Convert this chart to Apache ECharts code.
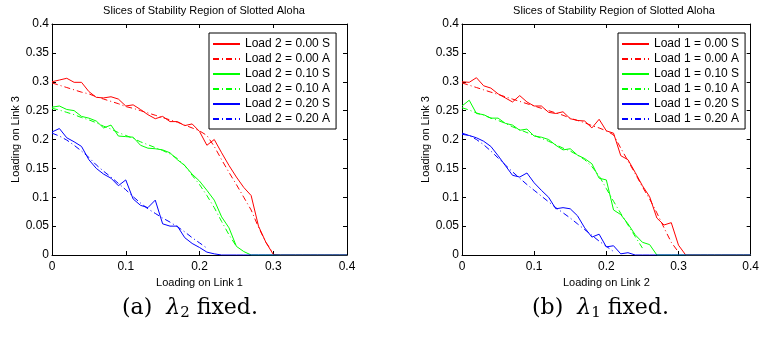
<!DOCTYPE html>
<html>
<head>
<meta charset="utf-8">
<script src="https://cdn.jsdelivr.net/npm/echarts@6/dist/echarts.min.js"></script>
<style>
html,body{margin:0;padding:0;background:#fff;}
#chart{width:762px;height:337px;}
</style>
</head>
<body>
<div id="chart"></div>
<script>
// ---- data ----
const xs = [0,0.01,0.02,0.03,0.04,0.05,0.06,0.07,0.08,0.09,0.10,0.11,0.12,0.13,0.14,0.15,0.16,0.17,0.18,0.19,0.20,
            0.21,0.22,0.23,0.24,0.25,0.26,0.27,0.28,0.29,0.30,0.31,0.32,0.33,0.34,0.35,0.36,0.37,0.38,0.39,0.40];
const xTicks = [0,0.1,0.2,0.3,0.4];
const yTicks = [0,0.05,0.1,0.15,0.2,0.25,0.3,0.35,0.4];

// Left panel: Load 2 fixed
const leftRedS   = [0.300,0.303,0.306,0.299,0.299,0.283,0.273,0.272,0.274,0.270,0.258,0.260,0.252,0.243,0.236,0.240,0.231,0.231,0.224,0.227,0.214,0.190,0.200,0.177,0.155,0.135,0.117,0.103,0.050,0.022,0.001,0,0,0,0,0,0,0,0,0,0];
const leftRedA   = [0.298,0.294,0.290,0.286,0.282,0.279,0.274,0.270,0.266,0.262,0.257,0.254,0.250,0.246,0.242,0.238,0.234,0.230,0.225,0.220,0.215,0.207,0.188,0.165,0.143,0.122,0.100,0.078,0.048,0.022,0.003];
const leftGreenS = [0.256,0.258,0.252,0.250,0.240,0.237,0.232,0.220,0.225,0.206,0.205,0.204,0.190,0.185,0.184,0.182,0.177,0.165,0.155,0.140,0.128,0.112,0.095,0.066,0.047,0.015,0.006,0,0,0,0,0,0,0,0,0,0,0,0,0,0];
const leftGreenA = [0.254,0.251,0.247,0.243,0.238,0.234,0.229,0.223,0.218,0.212,0.207,0.202,0.196,0.191,0.186,0.181,0.175,0.167,0.155,0.138,0.122,0.103,0.082,0.058,0.035,0.015];
const leftBlueS  = [0.213,0.219,0.203,0.196,0.188,0.165,0.150,0.140,0.133,0.120,0.130,0.097,0.086,0.082,0.095,0.054,0.050,0.050,0.030,0.020,0.013,0.005,0.002,0,0,0,0,0,0,0,0,0,0,0,0,0,0,0,0,0,0];
const leftBlueA  = [0.211,0.206,0.199,0.190,0.180,0.169,0.156,0.145,0.135,0.124,0.113,0.101,0.090,0.080,0.072,0.064,0.057,0.049,0.040,0.030,0.021,0.012];

// Right panel: Load 1 fixed
const rightRedS   = [0.300,0.299,0.307,0.293,0.289,0.279,0.272,0.265,0.276,0.265,0.258,0.258,0.247,0.245,0.248,0.236,0.233,0.232,0.220,0.235,0.215,0.211,0.172,0.165,0.143,0.120,0.101,0.064,0.052,0.056,0.017,0,0,0,0,0,0,0,0,0,0];
const rightRedA   = [0.298,0.294,0.290,0.286,0.282,0.278,0.274,0.270,0.266,0.262,0.258,0.254,0.250,0.246,0.242,0.237,0.233,0.229,0.224,0.220,0.215,0.208,0.185,0.163,0.141,0.118,0.097,0.073,0.047,0.022,0.005];
const rightGreenS = [0.258,0.268,0.245,0.243,0.237,0.237,0.228,0.225,0.216,0.218,0.206,0.204,0.200,0.190,0.182,0.184,0.173,0.167,0.158,0.133,0.130,0.078,0.070,0.054,0.035,0.022,0.018,0,0,0,0,0,0,0,0,0,0,0,0,0,0];
const rightGreenA = [0.255,0.251,0.246,0.242,0.237,0.233,0.228,0.222,0.217,0.212,0.207,0.202,0.197,0.191,0.185,0.180,0.173,0.165,0.153,0.137,0.115,0.093,0.072,0.052,0.032,0.012];
const rightBlueS  = [0.209,0.207,0.203,0.197,0.188,0.172,0.155,0.138,0.135,0.142,0.125,0.112,0.100,0.080,0.082,0.080,0.068,0.047,0.031,0.036,0.014,0.016,0.002,0.004,0,0,0,0,0,0,0,0,0,0,0,0,0,0,0,0,0];
const rightBlueA  = [0.211,0.207,0.200,0.191,0.180,0.168,0.156,0.144,0.133,0.122,0.112,0.102,0.092,0.082,0.073,0.064,0.054,0.044,0.034,0.024,0.015,0.006];

const leftNames  = ['Load 2 = 0.00 S','Load 2 = 0.00 A','Load 2 = 0.10 S','Load 2 = 0.10 A','Load 2 = 0.20 S','Load 2 = 0.20 A'];
const rightNames = ['Load 1 = 0.00 S','Load 1 = 0.00 A','Load 1 = 0.10 S','Load 1 = 0.10 A','Load 1 = 0.20 S','Load 1 = 0.20 A'];
const titles = ['Slices of Stability Region of Slotted Aloha','Slices of Stability Region of Slotted Aloha'];
const xNames = ['Loading on Link 1','Loading on Link 2'];
const yName = 'Loading on Link 3';

// ---- build ----
const FONT = 'Liberation Sans, Arial, sans-serif';
const colors = ['#ff0000','#ff0000','#00ff00','#00ff00','#0000ff','#0000ff'];
const dashDot = [6,3,1,3];
function zip(vals){ return vals.map((v,i)=>[xs[i],v]); }
function lineType(i){ return (i%2===0)?'solid':dashDot; }

// legend icons (27x13 box, line in the middle)
const BOUNDS = 'M0,0L0.01,0L0.01,0.01ZM26.99,12.99L27,12.99L27,13Z';
const iconSolid = 'path://' + BOUNDS + 'M0,6L27,6L27,8L0,8Z';
const iconDashDot = 'path://' + BOUNDS +
  'M0,6L6,6L6,8L0,8Z' + 'M9,6L10,6L10,8L9,8Z' +
  'M13,6L19,6L19,8L13,8Z' + 'M22,6L23,6L23,8L22,8Z' + 'M26,6L27,6L27,8L26,8Z';

const grids = [
  {left:52, top:24, width:295, height:231},
  {left:462, top:24, width:294, height:231}
];

const xAxes = [], yAxes = [];
[0,1].forEach(g=>{
  xAxes.push({
    type:'value', gridIndex:g, position:'bottom', min:0, max:0.4, interval:0.1,
    axisLine:{onZero:false, lineStyle:{color:'#000', width:1}},
    axisTick:{inside:true, length:4, lineStyle:{color:'#000'}},
    axisLabel:{color:'#000', fontSize:12, fontFamily:FONT, margin:6,
      formatter:v=>String(+v.toFixed(2))},
    splitLine:{show:false},
    name:xNames[g], nameLocation:'middle', nameGap:14,
    nameTextStyle:{color:'#000', fontSize:11, fontFamily:FONT}
  });
  xAxes.push({
    type:'value', gridIndex:g, position:'top', min:0, max:0.4, interval:0.1,
    axisLine:{onZero:false, lineStyle:{color:'#000', width:1}},
    axisTick:{inside:true, length:4, lineStyle:{color:'#000'}},
    axisLabel:{show:false}, splitLine:{show:false}
  });
  yAxes.push({
    type:'value', gridIndex:g, position:'left', min:0, max:0.4, interval:0.05,
    axisLine:{onZero:false, lineStyle:{color:'#000', width:1}},
    axisTick:{inside:true, length:4, lineStyle:{color:'#000'}},
    axisLabel:{color:'#000', fontSize:12, fontFamily:FONT, margin:3,
      formatter:v=>String(+v.toFixed(2))},
    splitLine:{show:false},
    name:yName, nameLocation:'middle', nameGap:31,
    nameTextStyle:{color:'#000', fontSize:11, fontFamily:FONT}
  });
  yAxes.push({
    type:'value', gridIndex:g, position:'right', min:0, max:0.4, interval:0.05,
    axisLine:{onZero:false, lineStyle:{color:'#000', width:1}},
    axisTick:{inside:true, length:4, lineStyle:{color:'#000'}},
    axisLabel:{show:false}, splitLine:{show:false}
  });
});

const panelData = [
  [leftRedS,leftRedA,leftGreenS,leftGreenA,leftBlueS,leftBlueA],
  [rightRedS,rightRedA,rightGreenS,rightGreenA,rightBlueS,rightBlueA]
];
const panelNames = [leftNames,rightNames];
const series = [];
[0,1].forEach(g=>{
  panelData[g].forEach((vals,i)=>{
    series.push({
      type:'line', name:panelNames[g][i], xAxisIndex:g*2, yAxisIndex:g*2,
      data:zip(vals), symbol:'none', animation:false,
      lineStyle:{color:colors[i], width:1, type:lineType(i)},
      itemStyle:{color:colors[i]}
    });
  });
});

const legends = [209,618].map((lx,g)=>({
  data:panelNames[g].map((n,i)=>({
    name:n,
    icon:(i%2===0)?iconSolid:iconDashDot,
    itemStyle:{color:colors[i], borderWidth:0}
  })),
  orient:'vertical', left:lx, top:33,
  backgroundColor:'#fff', borderColor:'#000', borderWidth:1,
  padding:[4,6,4,4], itemWidth:27, itemHeight:13, itemGap:2,
  textStyle:{color:'#000', fontSize:12, fontFamily:FONT, lineHeight:13}
}));

const SERIF = 'DejaVu Serif, serif';
const capRich = {
  t:{fontFamily:SERIF, fontSize:22, color:'#000'},
  l:{fontFamily:SERIF, fontSize:22, fontStyle:'italic', color:'#000'},
  s:{fontFamily:SERIF, fontSize:15, color:'#000', verticalAlign:'bottom', padding:[10,0,0,0]}
};

const chart = echarts.init(document.getElementById('chart'), null, {renderer:'canvas'});
chart.setOption({
  animation:false,
  backgroundColor:'#fff',
  title:[
    {text:titles[0], left:199, top:0, textAlign:'center', textStyle:{fontSize:11, fontWeight:'normal', color:'#000', fontFamily:FONT}},
    {text:titles[1], left:609, top:0, textAlign:'center', textStyle:{fontSize:11, fontWeight:'normal', color:'#000', fontFamily:FONT}}
  ],
  grid:grids,
  xAxis:xAxes,
  yAxis:yAxes,
  legend:legends,
  series:series,
  graphic:[
    {type:'text', left:122, top:297, style:{text:'{t|(a)  }{l|λ}{s|2}{t| fixed.}', rich:capRich}},
    {type:'text', left:532, top:297, style:{text:'{t|(b)  }{l|λ}{s|1}{t| fixed.}', rich:capRich}}
  ]
});
</script>
</body>
</html>
